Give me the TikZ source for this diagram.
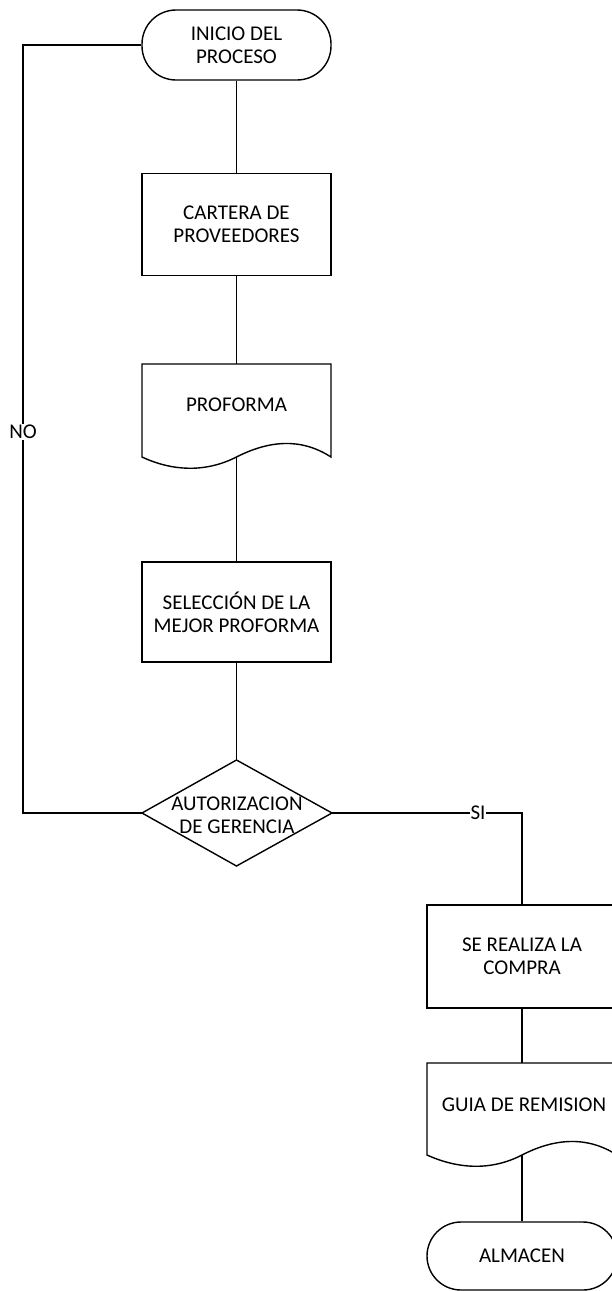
\documentclass[tikz,border=0pt]{standalone}
\usepackage{fontspec}
\setmainfont{Carlito}
\begin{document}
\begin{tikzpicture}[x=1pt,y=-1pt,
  every node/.style={font=\fontsize{21}{23}\selectfont, align=center},
  lw/.style={line width=1.4pt},
  term/.style={lw, draw, rounded corners=34pt, minimum width=189pt, minimum height=70pt, inner sep=0pt},
  proc/.style={lw, draw, minimum width=189pt, minimum height=102pt, inner sep=0pt},
  txt/.style={inner sep=0pt},
  lbl/.style={fill=white, inner sep=1pt},
  conn/.style={lw}]
\useasboundingbox (0,0) rectangle (612,1291);
% nodes
\node[term] (start) at (236.5,45) {INICIO DEL\\PROCESO};
\node[proc] (cartera) at (236.5,224.5) {CARTERA DE\\PROVEEDORES};
% document shape proforma
\draw[lw] (142,364) -- (331,364) -- (331,457)
  .. controls (300,437) and (268,441) .. (236.5,457)
  .. controls (205,473) and (172,471) .. (142,457) -- cycle;
\coordinate (pfTop) at (236.5,364);
\coordinate (pfBot) at (236.5,457);
\node[txt] (proforma) at (236.5,405) {PROFORMA};
\node[proc, minimum height=100pt] (sel) at (236.5,612) {SELECCIÓN DE LA\\MEJOR PROFORMA};
% diamond
\coordinate (dT) at (236.5,760);
\coordinate (dL) at (142,813);
\coordinate (dR) at (332,813);
\coordinate (dB) at (236.5,866);
\draw[lw] (dT) -- (dR) -- (dB) -- (dL) -- cycle;
\node[txt] (aut) at (237,815) {AUTORIZACION\\DE GERENCIA};
\node[proc, minimum width=190pt, minimum height=103pt] (compra) at (522,956.5) {SE REALIZA LA\\COMPRA};
% document shape guia
\draw[lw] (427,1063) -- (617,1063) -- (617,1155)
  .. controls (586,1135) and (553,1139) .. (522,1155)
  .. controls (491,1171) and (458,1169) .. (427,1155) -- cycle;
\coordinate (gTop) at (522,1063);
\coordinate (gBot) at (522,1155);
\node[txt] (guia) at (524,1105) {GUIA DE REMISION};
\node[term, minimum width=190pt, minimum height=68pt] (alm) at (522,1256) {ALMACEN};
% connectors
\draw[conn] (start.south) -- (cartera.north);
\draw[conn] (cartera.south) -- (pfTop);
\draw[conn] (pfBot) -- (sel.north);
\draw[conn] (sel.south) -- (dT);
\coordinate (loopTop) at (23,45);
\coordinate (loopBot) at (23,813);
\draw[conn] (start.west) -- (loopTop) -- (loopBot) -- (dL);
\node[lbl] (no) at (23,432) {NO};
\coordinate (siCorner) at (522,813);
\draw[conn] (dR) -- (siCorner) -- (compra.north);
\node[lbl] (si) at (478,813) {SI};
\draw[conn] (compra.south) -- (gTop);
\draw[conn] (gBot) -- (alm.north);
\end{tikzpicture}
\end{document}
